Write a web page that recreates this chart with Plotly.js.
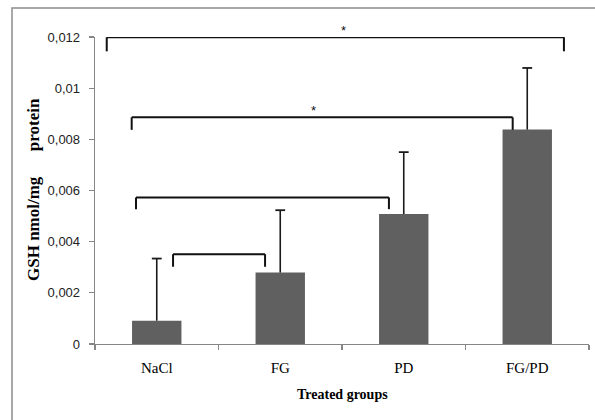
<!DOCTYPE html>
<html>
<head>
<meta charset="utf-8">
<script src="https://cdn.plot.ly/plotly-3.0.1.min.js"></script>
<style>html,body{margin:0;padding:0;background:#fff;}#chart{width:595px;height:420px;}</style>
</head>
<body>
<div id="chart"></div>
<script>
// ---- data ----
var categories = ["NaCl", "FG", "PD", "FG/PD"];
var gshMeans = [0.00091, 0.00279, 0.00508, 0.00838];
var gshErrors = [0.00243, 0.00244, 0.00242, 0.00241];
var yTickVals = [0, 0.002, 0.004, 0.006, 0.008, 0.01, 0.012];
// significance brackets (category index positions / values)
var bracketFrom = [-0.405, -0.203, -0.168, 0.132];
var bracketTo = [3.297, 2.882, 1.88, 0.877];
var bracketLevel = [0.01199, 0.00886, 0.00573, 0.00351];
var bracketFoot = [0.01144, 0.00837, 0.00527, 0.00302];
var starX = [1.51, 1.268];
var starY = [0.01232, 0.0092];
var starText = ["*", "*"];

// ---- layout geometry (pixels) ----
var W = 595, H = 420, L = 95, R = 589, T = 37, B = 344;
var yMax = 0.012;
var pw = R - L, ph = B - T;
function px(x) { return (x - L) / pw; }
function py(y) { return (B - y) / ph; }

var shapes = [];
// outer frame
shapes.push({type: 'rect', xref: 'paper', yref: 'paper',
  x0: px(12), x1: px(605), y0: py(430), y1: py(8),
  line: {color: '#8c8c8c', width: 1.5}, fillcolor: 'rgba(0,0,0,0)', layer: 'below'});
for (var i = 0; i < bracketFrom.length; i++) {
  var ln = {color: '#111', width: 2};
  shapes.push({type: 'line', xref: 'x', yref: 'y', x0: bracketFrom[i], x1: bracketTo[i], y0: bracketLevel[i], y1: bracketLevel[i], line: ln});
  shapes.push({type: 'line', xref: 'x', yref: 'y', x0: bracketFrom[i], x1: bracketFrom[i], y0: bracketLevel[i], y1: bracketFoot[i], line: ln});
  shapes.push({type: 'line', xref: 'x', yref: 'y', x0: bracketTo[i], x1: bracketTo[i], y0: bracketLevel[i], y1: bracketFoot[i], line: ln});
}

var annotations = [];
for (var j = 0; j < starX.length; j++) {
  annotations.push({xref: 'x', yref: 'paper', x: starX[j], y: starY[j] / yMax, text: starText[j],
    showarrow: false, font: {family: 'Liberation Sans, sans-serif', size: 13, color: '#111'},
    xanchor: 'center', yanchor: 'middle', yshift: -2});
}
annotations.push({xref: 'paper', yref: 'paper', x: 0.5, y: 0, yanchor: 'middle', xanchor: 'center',
  yshift: -(394 - B), showarrow: false, text: 'Treated groups',
  font: {family: 'Liberation Serif, serif', size: 14, color: '#000', weight: 'bold'}});
annotations.push({xref: 'paper', yref: 'paper', x: 0, y: 0.5, xanchor: 'center', yanchor: 'middle',
  xshift: 33 - L, yshift: (B - T) / 2 - (B - 191), textangle: -90, showarrow: false,
  text: 'GSH nmol/mg\u00a0\u00a0\u00a0\u00a0\u00a0\u00a0protein',
  font: {family: 'Liberation Serif, serif', size: 17, color: '#000', weight: 'bold'}});

var bars = {
  type: 'bar', x: categories, y: gshMeans,
  marker: {color: '#606060', line: {width: 0}},
  hoverinfo: 'none'
};
// upper error bars: vertical whisker from bar top up to mean+error, cap at the top only
var errTops = gshMeans.map(function (m, k) { return m + gshErrors[k]; });
var whiskers = {
  type: 'scatter', mode: 'markers', x: categories, y: errTops,
  marker: {symbol: 'line-ew', size: 7, line: {color: '#1a1a1a', width: 1.8}},
  error_y: {type: 'data', symmetric: false, array: gshErrors.map(function () { return 0; }),
    arrayminus: gshErrors, color: '#1a1a1a', thickness: 1.6, width: 0},
  cliponaxis: false, hoverinfo: 'none'
};

var layout = {
  width: W, height: H,
  margin: {l: L, r: W - R, t: T, b: H - B, pad: 0},
  paper_bgcolor: '#fff', plot_bgcolor: '#fff',
  separators: ', ',
  showlegend: false,
  bargap: 0.6,
  xaxis: {type: 'category', tickson: 'boundaries', ticks: 'outside', ticklen: 5, tickcolor: '#868686', tickwidth: 1.3,
    showline: true, linecolor: '#868686', linewidth: 1.3, showgrid: false, zeroline: false,
    tickfont: {family: 'Liberation Serif, serif', size: 15, color: '#000'}, ticklabelstandoff: 10,
    range: [-0.5, 3.5]},
  yaxis: {range: [0, yMax], tickvals: yTickVals, ticks: 'outside', ticklen: 5, tickcolor: '#868686', tickwidth: 1.3,
    showline: true, linecolor: '#868686', linewidth: 1.3, showgrid: false, zeroline: false,
    tickfont: {family: 'Liberation Sans, sans-serif', size: 13, color: '#222'}, ticklabelstandoff: 6},
  shapes: shapes,
  annotations: annotations
};

Plotly.newPlot('chart', [bars, whiskers], layout, {staticPlot: true, displayModeBar: false});
</script>
</body>
</html>
